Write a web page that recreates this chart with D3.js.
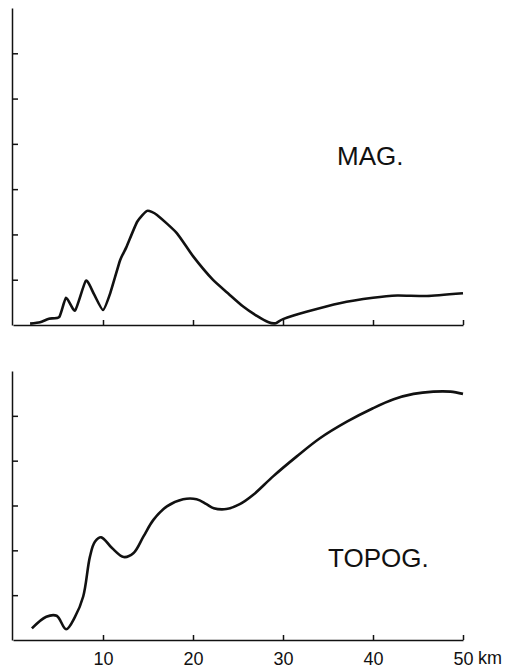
<!DOCTYPE html>
<html>
<head>
<meta charset="utf-8">
<script src="https://cdn.jsdelivr.net/npm/d3@7"></script>
<style>
  body { margin: 0; background: #fff; }
  svg { display: block; }
  .axis path, .axis line { stroke: #111; stroke-width: 1.5; }
  .axis text { font-family: "Liberation Sans", Arial, sans-serif; font-size: 18px; fill: #111; }
</style>
</head>
<body>
<div id="vis-container"></div>
<script>
const width = 510,
    height = 672;

// distance along profile (km)
var xTicks = [10, 20, 30, 40, 50];

// magnetic profile (km, relative units)
var magKm  = [1.9, 3.0, 4.0, 5.15, 5.9, 6.9, 8.1, 9.0, 10.0, 10.8, 11.9, 12.6, 13.8, 14.9, 16.0, 18.2, 20.0, 22.2, 24.0, 25.5, 27.1, 28.4, 29.2, 30.0, 32.6, 36.3, 40.0, 42.7, 46.0, 50.0];
var magVal = [0.03, 0.06, 0.14, 0.18, 0.6, 0.32, 0.98, 0.68, 0.33, 0.7, 1.43, 1.72, 2.28, 2.52, 2.43, 2.03, 1.52, 1.0, 0.68, 0.42, 0.2, 0.06, 0.04, 0.13, 0.29, 0.48, 0.6, 0.65, 0.64, 0.7];
var magTicks = [1, 2, 3, 4, 5, 6];

// topography profile
var topoKm  = [2.1, 3.7, 4.85, 5.9, 6.9, 7.8, 8.55, 9.1, 9.8, 11.0, 12.3, 13.4, 14.5, 15.6, 17.1, 18.9, 20.4, 21.5, 22.3, 23.7, 25.2, 26.7, 28.9, 31.5, 34.1, 37.1, 40.0, 42.3, 44.5, 46.7, 48.6, 50.0];
var topoVal = [0.26, 0.52, 0.54, 0.24, 0.52, 0.97, 1.86, 2.19, 2.29, 2.05, 1.85, 1.94, 2.31, 2.68, 2.98, 3.14, 3.14, 3.03, 2.94, 2.92, 3.03, 3.24, 3.65, 4.09, 4.5, 4.87, 5.17, 5.37, 5.49, 5.54, 5.54, 5.49];
var topoTicks = [1, 2, 3, 4, 5];

var svg = d3.select("#vis-container").append("svg")
    .attr("width", width)
    .attr("height", height);

var x = d3.scaleLinear()
    .domain([0, 50])
    .range([13, 463]);

var yMag = d3.scaleLinear()
    .domain([0, 7])
    .range([325, 8]);

var yTopo = d3.scaleLinear()
    .domain([0, 6])
    .range([640, 371]);

function panel(y, km, vals, yTicks, showLabels, label, lx, ly, curve) {
    var g = svg.append("g");

    g.append("g")
        .attr("class", "axis")
        .attr("transform", "translate(0," + y.range()[0] + ")")
        .call(d3.axisBottom(x)
            .tickValues(xTicks)
            .tickSizeInner(-5)
            .tickSizeOuter(0)
            .tickPadding(12)
            .tickFormat(showLabels ? d3.format("d") : ""));

    g.append("g")
        .attr("class", "axis")
        .attr("transform", "translate(12,0)")
        .call(d3.axisLeft(y)
            .tickValues(yTicks)
            .tickSizeInner(-6)
            .tickSizeOuter(0)
            .tickFormat(""));

    g.selectAll(".domain").attr("fill", "none");

    var line = d3.line()
        .x(function(d) { return x(d[0]); })
        .y(function(d) { return y(d[1]); })
        .curve(curve);

    g.append("path")
        .datum(d3.zip(km, vals))
        .attr("fill", "none")
        .attr("stroke", "#111")
        .attr("stroke-width", 2.6)
        .attr("stroke-linejoin", "round")
        .attr("d", line);

    g.append("text")
        .attr("x", lx)
        .attr("y", ly)
        .attr("font-family", "Liberation Sans, Arial, sans-serif")
        .attr("font-size", 26)
        .attr("fill", "#111")
        .text(label);
}

// mag trace has sharp little spikes, so keep the curve tight
panel(yMag, magKm, magVal, magTicks, false, "MAG.", 337, 165, d3.curveCardinal.tension(0.45));
panel(yTopo, topoKm, topoVal, topoTicks, true, "TOPOG.", 328, 567, d3.curveCatmullRom.alpha(0.5));

svg.append("text")
    .attr("x", 478)
    .attr("y", 664)
    .attr("font-family", "Liberation Sans, Arial, sans-serif")
    .attr("font-size", 18)
    .attr("fill", "#111")
    .text("km");
</script>
</body>
</html>
